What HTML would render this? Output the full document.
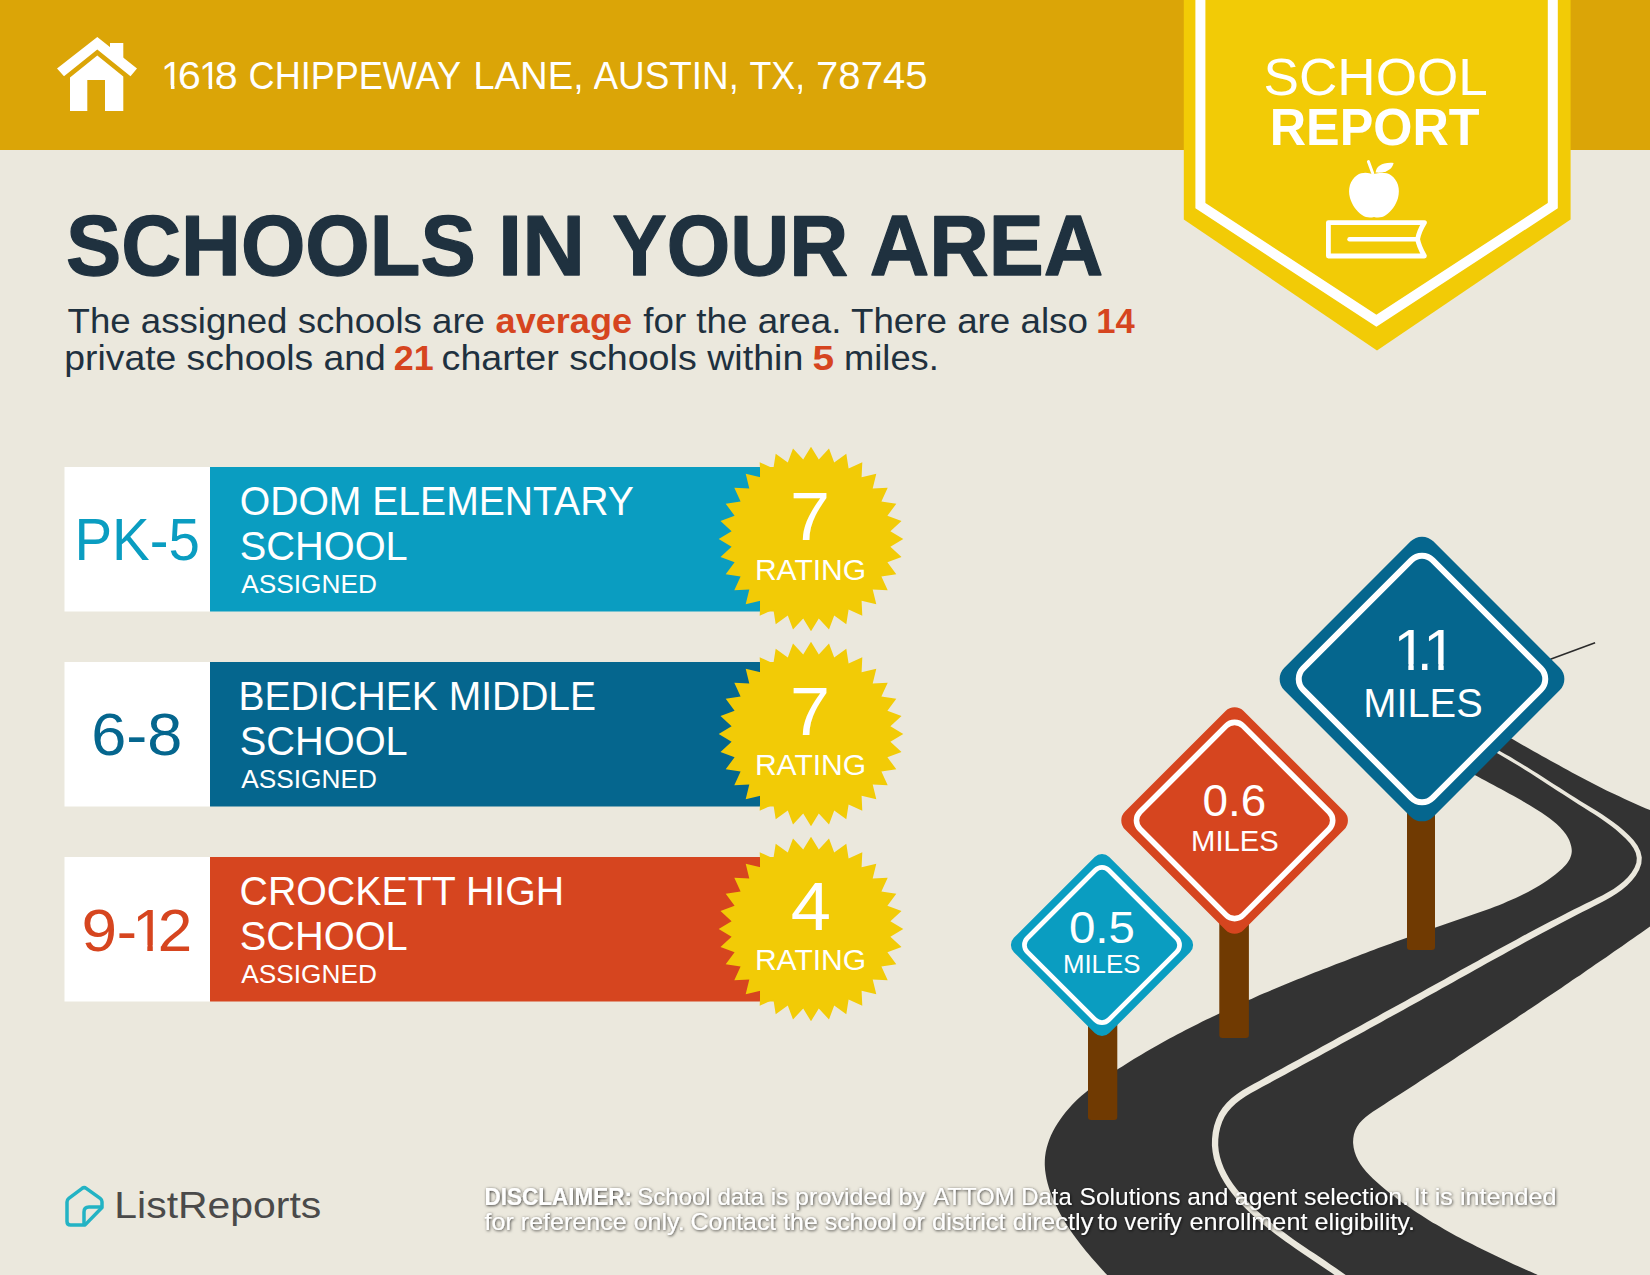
<!DOCTYPE html>
<html lang="en"><head><meta charset="utf-8"><title>School Report</title>
<style>
html,body{margin:0;padding:0;background:#ebe8dd;}
body{width:1650px;height:1275px;overflow:hidden;}
svg{display:block;font-family:"Liberation Sans",sans-serif;}
text{white-space:pre;}
</style></head><body>
<svg width="1650" height="1275" viewBox="0 0 1650 1275">
<defs><filter id="sh" x="-5%" y="-30%" width="110%" height="170%"><feDropShadow dx="0.7" dy="0.8" stdDeviation="1.8" flood-color="#000" flood-opacity="0.8"/></filter></defs>
<rect width="1650" height="1275" fill="#ebe8dd"/>
<rect x="0" y="0" width="1650" height="150" fill="#dba507"/>
<g fill="#fff"><path d="M97.3,37 L137,68.5 L130.5,76.2 L97.3,49.5 L64,76.2 L57,68.5 Z"/><path d="M110,43 H123.3 V62 L110,51 Z"/><path d="M97.3,55.5 L123.3,76.5 V111 H105 V80 H87.3 V111 H70 V77.5 Z"/></g>
<clipPath id="c1"><rect x="170.47" y="49.76" width="4.43" height="35.52"/><rect x="170.87" y="85.27" width="3.63" height="4.73"/><rect x="162.80" y="49.76" width="8.17" height="35.52"/><rect x="179.10" y="49.76" width="20.70" height="35.32"/><rect x="182.40" y="85.08" width="15.60" height="17.66"/><rect x="208.21" y="49.76" width="4.39" height="35.52"/><rect x="208.61" y="85.27" width="3.59" height="4.73"/><rect x="200.60" y="49.76" width="8.11" height="35.52"/><rect x="215.90" y="49.76" width="21.00" height="35.32"/><rect x="219.50" y="85.08" width="15.60" height="17.66"/><rect x="249.60" y="49.76" width="211.50" height="35.32"/><rect x="250.40" y="85.08" width="209.90" height="17.66"/><rect x="475.50" y="49.76" width="105.80" height="35.32"/><rect x="476.30" y="85.08" width="104.20" height="17.66"/><rect x="592.80" y="49.76" width="143.70" height="35.32"/><rect x="593.60" y="85.08" width="142.10" height="17.66"/><rect x="749.40" y="49.76" width="53.50" height="35.32"/><rect x="750.20" y="85.08" width="51.90" height="17.66"/><rect x="817.30" y="49.76" width="109.30" height="35.32"/><rect x="818.10" y="85.08" width="107.70" height="17.66"/></clipPath>
<text clip-path="url(#c1)"><tspan x="161.08" y="89.00" textLength="21.79" lengthAdjust="spacingAndGlyphs" font-size="39.24" fill="#fff">1</tspan><tspan x="177.82" y="89.00" textLength="23.09" lengthAdjust="spacingAndGlyphs" font-size="39.24" fill="#fff">6</tspan><tspan x="198.92" y="89.00" textLength="21.57" lengthAdjust="spacingAndGlyphs" font-size="39.24" fill="#fff">1</tspan><tspan x="214.84" y="89.00" textLength="22.96" lengthAdjust="spacingAndGlyphs" font-size="39.24" fill="#fff">8</tspan> <tspan x="248.60" y="89.00" textLength="212.42" lengthAdjust="spacingAndGlyphs" font-size="39.24" fill="#fff">CHIPPEWAY</tspan> <tspan x="473.24" y="89.00" textLength="110.72" lengthAdjust="spacingAndGlyphs" font-size="39.24" fill="#fff">LANE,</tspan> <tspan x="593.42" y="89.00" textLength="145.60" lengthAdjust="spacingAndGlyphs" font-size="39.24" fill="#fff">AUSTIN,</tspan> <tspan x="749.48" y="89.00" textLength="55.68" lengthAdjust="spacingAndGlyphs" font-size="39.24" fill="#fff">TX,</tspan> <tspan x="816.10" y="89.00" textLength="111.34" lengthAdjust="spacingAndGlyphs" font-size="39.24" fill="#fff">78745</tspan></text>
<path d="M1183.8,0 V219.4 L1377,350.5 L1570.6,219.4 V0 Z" fill="#f2cb06"/>
<path d="M1200.4,-10 V205.6 L1376.4,320.8 L1552.8,205.6 V-10" fill="none" stroke="#fff" stroke-width="10" stroke-linejoin="miter"/>
<text><tspan x="1263.61" y="95.40" textLength="224.25" lengthAdjust="spacingAndGlyphs" font-size="52.33" fill="#fff">SCHOOL</tspan> <tspan x="1269.73" y="144.80" textLength="209.88" lengthAdjust="spacingAndGlyphs" font-size="51.31" font-weight="bold" fill="#fff">REPORT</tspan></text>
<g fill="#fff"><path d="M1372.5,174.6 C1369,172.4 1362,171.8 1357,175.3 C1350,180.3 1347.6,189 1350,198 C1352,205 1356.5,211 1362,215 C1366,217.8 1370.5,217.8 1374,216.9 C1377.5,217.8 1382,217.8 1386,215 C1391.5,211 1396,205 1398,198 C1400.4,189 1398,180.3 1391,175.3 C1386,171.8 1379,172.4 1372.5,174.6 Z"/><path d="M1375.6,172.6 C1376,166 1383,162 1393.6,163 C1392.5,169.5 1385,173.6 1375.6,172.6 Z"/></g>
<path d="M1368.4,161.6 L1372.8,173.5" stroke="#fff" stroke-width="3" stroke-linecap="round" fill="none"/>
<path d="M1424.4,222.6 H1328.4 V256 H1424.4 C1421,250 1418.5,244 1417.6,239.2 C1418.5,234 1421,228 1424.4,222.6 Z" fill="none" stroke="#fff" stroke-width="4.8" stroke-linejoin="round" stroke-linecap="round"/>
<path d="M1349.5,239.2 H1417" stroke="#fff" stroke-width="4.4" stroke-linecap="round" fill="none"/>
<text><tspan x="66.01" y="275.00" textLength="409.68" lengthAdjust="spacingAndGlyphs" font-size="84.74" font-weight="bold" fill="#1f313f" stroke="#1f313f" stroke-width="1.3" stroke-linejoin="round">SCHOOLS</tspan> <tspan x="498.14" y="275.00" textLength="87.01" lengthAdjust="spacingAndGlyphs" font-size="84.74" font-weight="bold" fill="#1f313f" stroke="#1f313f" stroke-width="1.3" stroke-linejoin="round">IN</tspan> <tspan x="612.17" y="275.00" textLength="236.01" lengthAdjust="spacingAndGlyphs" font-size="84.74" font-weight="bold" fill="#1f313f" stroke="#1f313f" stroke-width="1.3" stroke-linejoin="round">YOUR</tspan> <tspan x="869.74" y="275.00" textLength="233.62" lengthAdjust="spacingAndGlyphs" font-size="84.74" font-weight="bold" fill="#1f313f" stroke="#1f313f" stroke-width="1.3" stroke-linejoin="round">AREA</tspan></text>
<text><tspan x="67.57" y="333.30" textLength="417.41" lengthAdjust="spacingAndGlyphs" font-size="34.88" fill="#1f313f">The assigned schools are</tspan> <tspan x="495.62" y="333.30" textLength="136.38" lengthAdjust="spacingAndGlyphs" font-size="34.88" font-weight="bold" fill="#d6451f">average</tspan> <tspan x="643.25" y="333.30" textLength="444.62" lengthAdjust="spacingAndGlyphs" font-size="34.88" fill="#1f313f">for the area. There are also</tspan> <tspan x="1096.15" y="333.30" textLength="38.50" lengthAdjust="spacingAndGlyphs" font-size="34.88" font-weight="bold" fill="#d6451f">14</tspan> <tspan x="64.27" y="370.00" textLength="321.50" lengthAdjust="spacingAndGlyphs" font-size="34.88" fill="#1f313f">private schools and</tspan> <tspan x="393.74" y="370.00" textLength="39.94" lengthAdjust="spacingAndGlyphs" font-size="34.88" font-weight="bold" fill="#d6451f">21</tspan> <tspan x="441.61" y="370.00" textLength="361.76" lengthAdjust="spacingAndGlyphs" font-size="34.88" fill="#1f313f">charter schools within</tspan> <tspan x="812.44" y="370.00" textLength="21.58" lengthAdjust="spacingAndGlyphs" font-size="34.88" font-weight="bold" fill="#d6451f">5</tspan> <tspan x="844.04" y="370.00" textLength="94.78" lengthAdjust="spacingAndGlyphs" font-size="34.88" fill="#1f313f">miles.</tspan></text>
<rect x="64.5" y="467" width="146" height="144.5" fill="#fff"/>
<rect x="210" y="467" width="550" height="144.5" fill="#0a9dc1"/>
<rect x="760" y="467" width="50" height="144.5" fill="#f2cb06"/>
<path d="M811.0,446.7 L818.8,459.6 L829.0,448.5 L834.2,462.6 L846.3,453.7 L848.6,468.6 L862.3,462.3 L861.6,477.3 L876.3,473.7 L872.7,488.4 L887.7,487.7 L881.4,501.4 L896.3,503.7 L887.4,515.8 L901.5,521.0 L890.4,531.2 L903.3,539.0 L890.4,546.8 L901.5,557.0 L887.4,562.2 L896.3,574.3 L881.4,576.6 L887.7,590.3 L872.7,589.6 L876.3,604.3 L861.6,600.7 L862.3,615.7 L848.6,609.4 L846.3,624.3 L834.2,615.4 L829.0,629.5 L818.8,618.4 L811.0,631.3 L803.2,618.4 L793.0,629.5 L787.8,615.4 L775.7,624.3 L773.4,609.4 L759.7,615.7 L760.4,600.7 L745.7,604.3 L749.3,589.6 L734.3,590.3 L740.6,576.6 L725.7,574.3 L734.6,562.2 L720.5,557.0 L731.6,546.8 L718.7,539.0 L731.6,531.2 L720.5,521.0 L734.6,515.8 L725.7,503.7 L740.6,501.4 L734.3,487.7 L749.3,488.4 L745.7,473.7 L760.4,477.3 L759.7,462.3 L773.4,468.6 L775.7,453.7 L787.8,462.6 L793.0,448.5 L803.2,459.6Z" fill="#f2cb06"/>
<text><tspan x="74.49" y="560.30" textLength="125.35" lengthAdjust="spacingAndGlyphs" font-size="58.58" fill="#0a9dc1">PK-5</tspan></text>
<text><tspan x="239.74" y="515.00" textLength="394.08" lengthAdjust="spacingAndGlyphs" font-size="39.83" fill="#fff">ODOM ELEMENTARY</tspan> <tspan x="239.71" y="559.60" textLength="168.01" lengthAdjust="spacingAndGlyphs" font-size="39.83" fill="#fff">SCHOOL</tspan></text>
<text><tspan x="241.37" y="592.50" textLength="135.49" lengthAdjust="spacingAndGlyphs" font-size="25.73" fill="#fff">ASSIGNED</tspan></text>
<text><tspan x="790.01" y="539.60" textLength="39.97" lengthAdjust="spacingAndGlyphs" font-size="68.31" fill="#fff">7</tspan> <tspan x="754.90" y="579.60" textLength="111.32" lengthAdjust="spacingAndGlyphs" font-size="29.07" fill="#fff">RATING</tspan></text>
<rect x="64.5" y="662" width="146" height="144.5" fill="#fff"/>
<rect x="210" y="662" width="550" height="144.5" fill="#05668e"/>
<rect x="760" y="662" width="50" height="144.5" fill="#f2cb06"/>
<path d="M811.0,641.7 L818.8,654.6 L829.0,643.5 L834.2,657.6 L846.3,648.7 L848.6,663.6 L862.3,657.3 L861.6,672.3 L876.3,668.7 L872.7,683.4 L887.7,682.7 L881.4,696.4 L896.3,698.7 L887.4,710.8 L901.5,716.0 L890.4,726.2 L903.3,734.0 L890.4,741.8 L901.5,752.0 L887.4,757.2 L896.3,769.3 L881.4,771.6 L887.7,785.3 L872.7,784.6 L876.3,799.3 L861.6,795.7 L862.3,810.7 L848.6,804.4 L846.3,819.3 L834.2,810.4 L829.0,824.5 L818.8,813.4 L811.0,826.3 L803.2,813.4 L793.0,824.5 L787.8,810.4 L775.7,819.3 L773.4,804.4 L759.7,810.7 L760.4,795.7 L745.7,799.3 L749.3,784.6 L734.3,785.3 L740.6,771.6 L725.7,769.3 L734.6,757.2 L720.5,752.0 L731.6,741.8 L718.7,734.0 L731.6,726.2 L720.5,716.0 L734.6,710.8 L725.7,698.7 L740.6,696.4 L734.3,682.7 L749.3,683.4 L745.7,668.7 L760.4,672.3 L759.7,657.3 L773.4,663.6 L775.7,648.7 L787.8,657.6 L793.0,643.5 L803.2,654.6Z" fill="#f2cb06"/>
<text><tspan x="91.25" y="755.30" textLength="91.10" lengthAdjust="spacingAndGlyphs" font-size="58.58" fill="#05668e">6-8</tspan></text>
<text><tspan x="238.38" y="710.00" textLength="357.73" lengthAdjust="spacingAndGlyphs" font-size="39.83" fill="#fff">BEDICHEK MIDDLE</tspan> <tspan x="239.71" y="754.60" textLength="168.01" lengthAdjust="spacingAndGlyphs" font-size="39.83" fill="#fff">SCHOOL</tspan></text>
<text><tspan x="241.37" y="787.50" textLength="135.49" lengthAdjust="spacingAndGlyphs" font-size="25.73" fill="#fff">ASSIGNED</tspan></text>
<text><tspan x="790.01" y="734.60" textLength="39.97" lengthAdjust="spacingAndGlyphs" font-size="68.31" fill="#fff">7</tspan> <tspan x="754.90" y="774.60" textLength="111.32" lengthAdjust="spacingAndGlyphs" font-size="29.07" fill="#fff">RATING</tspan></text>
<rect x="64.5" y="857" width="146" height="144.5" fill="#fff"/>
<rect x="210" y="857" width="550" height="144.5" fill="#d6451f"/>
<rect x="760" y="857" width="50" height="144.5" fill="#f2cb06"/>
<path d="M811.0,836.7 L818.8,849.6 L829.0,838.5 L834.2,852.6 L846.3,843.7 L848.6,858.6 L862.3,852.3 L861.6,867.3 L876.3,863.7 L872.7,878.4 L887.7,877.7 L881.4,891.4 L896.3,893.7 L887.4,905.8 L901.5,911.0 L890.4,921.2 L903.3,929.0 L890.4,936.8 L901.5,947.0 L887.4,952.2 L896.3,964.3 L881.4,966.6 L887.7,980.3 L872.7,979.6 L876.3,994.3 L861.6,990.7 L862.3,1005.7 L848.6,999.4 L846.3,1014.3 L834.2,1005.4 L829.0,1019.5 L818.8,1008.4 L811.0,1021.3 L803.2,1008.4 L793.0,1019.5 L787.8,1005.4 L775.7,1014.3 L773.4,999.4 L759.7,1005.7 L760.4,990.7 L745.7,994.3 L749.3,979.6 L734.3,980.3 L740.6,966.6 L725.7,964.3 L734.6,952.2 L720.5,947.0 L731.6,936.8 L718.7,929.0 L731.6,921.2 L720.5,911.0 L734.6,905.8 L725.7,893.7 L740.6,891.4 L734.3,877.7 L749.3,878.4 L745.7,863.7 L760.4,867.3 L759.7,852.3 L773.4,858.6 L775.7,843.7 L787.8,852.6 L793.0,838.5 L803.2,849.6Z" fill="#f2cb06"/>
<clipPath id="c2"><rect x="83.60" y="891.63" width="31.30" height="52.98"/><rect x="84.40" y="944.61" width="29.70" height="26.49"/><rect x="118.80" y="891.63" width="16.50" height="52.98"/><rect x="119.60" y="944.61" width="14.90" height="26.49"/><rect x="146.91" y="891.63" width="6.29" height="53.27"/><rect x="147.31" y="944.91" width="5.49" height="6.59"/><rect x="135.90" y="891.63" width="11.51" height="53.27"/><rect x="160.00" y="891.63" width="30.00" height="52.98"/><rect x="160.80" y="944.61" width="28.40" height="26.49"/></clipPath>
<text clip-path="url(#c2)"><tspan x="81.53" y="950.50" textLength="35.52" lengthAdjust="spacingAndGlyphs" font-size="58.87" fill="#d6451f">9</tspan><tspan x="116.86" y="950.50" textLength="20.25" lengthAdjust="spacingAndGlyphs" font-size="58.87" fill="#d6451f">-</tspan><tspan x="132.16" y="950.50" textLength="33.60" lengthAdjust="spacingAndGlyphs" font-size="58.87" fill="#d6451f">1</tspan><tspan x="157.68" y="950.50" textLength="34.71" lengthAdjust="spacingAndGlyphs" font-size="58.87" fill="#d6451f">2</tspan></text>
<text><tspan x="239.54" y="905.00" textLength="324.61" lengthAdjust="spacingAndGlyphs" font-size="39.83" fill="#fff">CROCKETT HIGH</tspan> <tspan x="239.71" y="949.60" textLength="168.01" lengthAdjust="spacingAndGlyphs" font-size="39.83" fill="#fff">SCHOOL</tspan></text>
<text><tspan x="241.37" y="982.50" textLength="135.49" lengthAdjust="spacingAndGlyphs" font-size="25.73" fill="#fff">ASSIGNED</tspan></text>
<text><tspan x="790.70" y="929.60" textLength="40.16" lengthAdjust="spacingAndGlyphs" font-size="68.31" fill="#fff">4</tspan> <tspan x="754.90" y="969.60" textLength="111.32" lengthAdjust="spacingAndGlyphs" font-size="29.07" fill="#fff">RATING</tspan></text>
<path d="M1107.2,1275.1C1106.1,1273.9 1102.8,1270.3 1100.7,1267.9C1098.6,1265.6 1096.6,1263.3 1094.5,1261.0C1092.5,1258.8 1090.6,1256.5 1088.7,1254.2C1086.8,1252.0 1084.9,1249.7 1083.1,1247.4C1081.2,1245.1 1079.4,1242.9 1077.7,1240.5C1075.9,1238.2 1074.2,1235.8 1072.5,1233.4C1070.8,1230.9 1069.1,1228.5 1067.5,1225.9C1065.8,1223.3 1064.2,1220.7 1062.6,1218.0C1061.1,1215.3 1059.5,1212.5 1058.1,1209.7C1056.6,1206.9 1055.2,1204.0 1054.0,1201.1C1052.7,1198.2 1051.5,1195.3 1050.4,1192.3C1049.3,1189.3 1048.4,1186.3 1047.6,1183.3C1046.8,1180.3 1046.1,1177.3 1045.7,1174.3C1045.2,1171.3 1044.9,1168.3 1044.8,1165.4C1044.7,1162.4 1044.8,1159.4 1045.1,1156.5C1045.4,1153.6 1046.0,1150.7 1046.7,1147.8C1047.4,1145.0 1048.3,1142.2 1049.3,1139.4C1050.4,1136.6 1051.6,1133.9 1053.0,1131.2C1054.4,1128.6 1055.9,1125.9 1057.5,1123.4C1059.1,1120.8 1060.9,1118.3 1062.7,1115.9C1064.6,1113.4 1066.5,1111.1 1068.6,1108.8C1070.6,1106.5 1072.7,1104.3 1074.8,1102.1C1077.0,1099.9 1079.2,1097.9 1081.5,1095.8C1083.7,1093.8 1086.1,1091.8 1088.4,1089.9C1090.8,1088.0 1093.2,1086.2 1095.7,1084.3C1098.1,1082.5 1100.6,1080.7 1103.1,1079.0C1105.6,1077.2 1108.2,1075.5 1110.7,1073.8C1113.2,1072.1 1115.8,1070.5 1118.4,1068.8C1121.0,1067.2 1123.5,1065.5 1126.1,1063.9C1128.7,1062.3 1131.3,1060.7 1133.9,1059.1C1136.5,1057.5 1139.1,1055.9 1141.7,1054.4C1144.4,1052.8 1147.0,1051.3 1149.6,1049.8C1152.3,1048.2 1154.9,1046.7 1157.6,1045.2C1160.2,1043.8 1162.9,1042.3 1165.5,1040.8C1168.2,1039.3 1170.9,1037.9 1173.5,1036.5C1176.2,1035.0 1178.9,1033.6 1181.6,1032.2C1184.3,1030.8 1187.0,1029.4 1189.7,1028.0C1192.4,1026.6 1195.1,1025.2 1197.8,1023.9C1200.5,1022.5 1203.3,1021.2 1206.0,1019.8C1208.7,1018.5 1211.5,1017.2 1214.2,1015.9C1216.9,1014.6 1219.7,1013.2 1222.4,1012.0C1225.2,1010.7 1227.9,1009.4 1230.7,1008.1C1233.4,1006.8 1236.2,1005.6 1239.0,1004.3C1241.7,1003.1 1244.5,1001.8 1247.3,1000.6C1250.1,999.4 1252.8,998.2 1255.6,996.9C1258.4,995.7 1261.2,994.5 1264.0,993.3C1266.8,992.1 1269.6,990.9 1272.4,989.8C1275.2,988.6 1278.0,987.4 1280.8,986.2C1283.6,985.1 1286.4,983.9 1289.2,982.8C1292.0,981.6 1294.8,980.5 1297.7,979.3C1300.5,978.2 1303.3,977.1 1306.1,975.9C1308.9,974.8 1311.8,973.7 1314.6,972.6C1317.4,971.4 1320.2,970.3 1323.1,969.2C1325.9,968.1 1328.7,967.0 1331.6,965.9C1334.4,964.8 1337.2,963.7 1340.0,962.7C1342.9,961.6 1345.7,960.5 1348.6,959.4C1351.4,958.3 1354.2,957.2 1357.1,956.2C1359.9,955.1 1362.7,954.0 1365.6,953.0C1368.4,951.9 1371.3,950.8 1374.1,949.8C1377.0,948.7 1379.8,947.6 1382.7,946.6C1385.5,945.5 1388.3,944.5 1391.2,943.4C1394.1,942.4 1396.9,941.4 1399.8,940.3C1402.6,939.3 1405.5,938.2 1408.3,937.2C1411.2,936.2 1414.1,935.2 1416.9,934.1C1419.8,933.1 1422.6,932.1 1425.5,931.1C1428.4,930.0 1431.3,929.0 1434.1,928.0C1437.0,927.0 1439.9,926.0 1442.8,925.0C1445.6,924.0 1448.5,923.0 1451.4,922.0C1454.3,921.0 1457.2,920.0 1460.1,919.0C1463.0,918.0 1465.9,917.0 1468.8,916.0C1471.6,915.0 1474.5,914.0 1477.4,913.0C1480.3,912.0 1483.2,911.0 1486.1,909.9C1488.9,908.9 1491.8,907.8 1494.7,906.7C1497.5,905.6 1500.4,904.5 1503.2,903.4C1506.0,902.2 1508.8,901.0 1511.6,899.8C1514.4,898.6 1517.1,897.3 1519.9,896.0C1522.6,894.7 1525.3,893.4 1528.0,891.9C1530.7,890.5 1533.4,889.1 1536.0,887.5C1538.6,886.0 1541.2,884.4 1543.8,882.7C1546.3,881.1 1548.8,879.3 1551.3,877.5C1553.8,875.7 1556.3,873.8 1558.6,871.8C1560.9,869.9 1563.3,867.8 1565.2,865.6C1567.0,863.4 1568.8,861.1 1569.9,858.7C1571.0,856.3 1571.7,853.7 1571.8,851.0C1571.8,848.3 1571.1,845.3 1570.1,842.5C1569.2,839.7 1567.6,836.9 1565.9,834.3C1564.2,831.8 1562.2,829.4 1560.0,827.2C1557.9,824.9 1555.5,822.8 1553.0,820.9C1550.5,818.9 1547.9,817.0 1545.3,815.2C1542.7,813.4 1540.0,811.7 1537.3,810.0C1534.6,808.3 1532.0,806.6 1529.3,805.0C1526.6,803.4 1524.0,801.9 1521.3,800.3C1518.6,798.8 1516.0,797.3 1513.3,795.8C1510.7,794.3 1508.0,792.9 1505.4,791.4C1502.7,790.0 1500.1,788.6 1497.4,787.2C1494.8,785.7 1492.1,784.3 1489.5,782.9C1486.9,781.5 1484.2,780.1 1481.6,778.7C1479.0,777.3 1476.4,775.9 1473.7,774.5C1471.1,773.0 1468.5,771.6 1465.9,770.1C1463.3,768.7 1460.7,767.2 1458.1,765.7C1455.5,764.2 1452.9,762.6 1450.3,761.1C1447.8,759.5 1445.2,757.9 1442.6,756.2C1440.0,754.6 1437.5,752.9 1434.9,751.1C1432.4,749.4 1429.8,747.6 1427.3,745.7C1424.7,743.9 1421.0,741.0 1419.7,740.0L1469.9,715.1C1471.4,715.9 1475.6,718.3 1478.4,719.8C1481.3,721.4 1484.1,723.0 1486.9,724.6C1489.8,726.2 1492.6,727.8 1495.4,729.4C1498.2,731.0 1501.1,732.6 1503.9,734.2C1506.7,735.8 1509.5,737.5 1512.4,739.1C1515.2,740.7 1518.0,742.3 1520.8,743.9C1523.6,745.5 1526.5,747.1 1529.3,748.7C1532.1,750.3 1535.0,751.9 1537.8,753.5C1540.6,755.1 1543.4,756.7 1546.3,758.3C1549.1,759.9 1552.0,761.5 1554.8,763.1C1557.6,764.7 1560.5,766.2 1563.3,767.8C1566.2,769.4 1569.0,770.9 1571.9,772.5C1574.8,774.0 1577.6,775.5 1580.5,777.0C1583.4,778.6 1586.2,780.1 1589.1,781.6C1592.0,783.1 1594.9,784.5 1597.8,786.0C1600.7,787.5 1603.6,788.9 1606.5,790.4C1609.4,791.8 1612.3,793.2 1615.3,794.6C1618.2,796.0 1621.1,797.4 1624.1,798.8C1627.0,800.1 1630.0,801.5 1633.0,802.8C1635.9,804.1 1638.9,805.4 1641.9,806.7C1644.9,808.0 1647.9,809.2 1650.9,810.5C1653.9,811.7 1658.5,813.5 1660.0,814.1L1659.5,919.8C1658.2,920.7 1654.4,923.4 1651.9,925.2C1649.4,927.0 1646.9,928.7 1644.4,930.5C1641.8,932.3 1639.3,934.1 1636.8,935.8C1634.3,937.6 1631.7,939.4 1629.2,941.1C1626.7,942.9 1624.2,944.6 1621.7,946.4C1619.2,948.1 1616.6,949.9 1614.1,951.6C1611.6,953.4 1609.1,955.1 1606.6,956.9C1604.1,958.6 1601.5,960.3 1599.0,962.1C1596.5,963.8 1594.0,965.5 1591.5,967.3C1589.0,969.0 1586.4,970.7 1583.9,972.4C1581.4,974.2 1578.9,975.9 1576.4,977.6C1573.8,979.3 1571.3,981.0 1568.8,982.7C1566.3,984.4 1563.8,986.1 1561.3,987.9C1558.7,989.6 1556.2,991.3 1553.7,993.0C1551.2,994.7 1548.6,996.4 1546.1,998.1C1543.6,999.8 1541.1,1001.5 1538.5,1003.2C1536.0,1004.8 1533.5,1006.5 1531.0,1008.2C1528.4,1009.9 1525.9,1011.6 1523.4,1013.3C1520.8,1015.0 1518.3,1016.7 1515.8,1018.4C1513.2,1020.0 1510.7,1021.7 1508.2,1023.4C1505.6,1025.1 1503.1,1026.8 1500.6,1028.5C1498.0,1030.1 1495.5,1031.8 1492.9,1033.5C1490.4,1035.2 1487.8,1036.9 1485.3,1038.5C1482.7,1040.2 1480.2,1041.9 1477.6,1043.6C1475.1,1045.3 1472.5,1046.9 1470.0,1048.6C1467.4,1050.3 1464.9,1052.0 1462.3,1053.6C1459.7,1055.3 1457.2,1057.0 1454.6,1058.7C1452.0,1060.4 1449.5,1062.0 1446.9,1063.7C1444.3,1065.4 1441.7,1067.1 1439.2,1068.8C1436.6,1070.4 1434.0,1072.1 1431.4,1073.8C1428.8,1075.5 1426.3,1077.2 1423.7,1078.8C1421.1,1080.5 1418.5,1082.2 1415.9,1083.9C1413.3,1085.6 1410.7,1087.3 1408.1,1089.0C1405.5,1090.6 1402.9,1092.3 1400.3,1094.0C1397.6,1095.7 1395.0,1097.4 1392.4,1099.1C1389.8,1100.8 1387.2,1102.5 1384.5,1104.2C1381.9,1105.9 1379.3,1107.6 1376.7,1109.3C1374.1,1111.0 1371.4,1112.7 1369.0,1114.5C1366.6,1116.4 1364.2,1118.2 1362.2,1120.3C1360.2,1122.3 1358.4,1124.4 1357.0,1126.8C1355.6,1129.2 1354.5,1131.8 1353.9,1134.5C1353.3,1137.2 1353.0,1140.2 1353.1,1143.1C1353.3,1146.0 1353.8,1149.0 1354.6,1151.8C1355.4,1154.7 1356.6,1157.5 1358.1,1160.2C1359.5,1162.9 1361.3,1165.5 1363.2,1168.0C1365.1,1170.5 1367.3,1173.0 1369.6,1175.3C1371.8,1177.7 1374.2,1179.9 1376.7,1182.1C1379.1,1184.3 1381.6,1186.4 1384.1,1188.4C1386.5,1190.5 1389.0,1192.4 1391.4,1194.3C1393.9,1196.2 1396.3,1198.1 1398.7,1199.9C1401.1,1201.7 1403.5,1203.4 1406.0,1205.1C1408.4,1206.9 1410.9,1208.5 1413.4,1210.2C1415.9,1211.9 1418.4,1213.5 1420.9,1215.1C1423.4,1216.8 1426.0,1218.4 1428.5,1219.9C1431.1,1221.5 1433.7,1223.1 1436.3,1224.6C1438.9,1226.2 1441.5,1227.7 1444.2,1229.2C1446.8,1230.7 1449.5,1232.2 1452.2,1233.7C1454.8,1235.1 1457.5,1236.6 1460.2,1238.0C1462.9,1239.5 1465.6,1240.9 1468.4,1242.3C1471.1,1243.7 1473.8,1245.1 1476.6,1246.5C1479.3,1247.8 1482.1,1249.2 1484.8,1250.6C1487.6,1251.9 1490.4,1253.2 1493.1,1254.6C1495.9,1255.9 1498.7,1257.2 1501.5,1258.5C1504.3,1259.8 1507.1,1261.1 1509.9,1262.4C1512.6,1263.7 1515.4,1265.0 1518.2,1266.3C1521.0,1267.5 1523.8,1268.8 1526.6,1270.1C1529.4,1271.3 1532.2,1272.6 1535.0,1273.8C1537.8,1275.1 1540.6,1276.3 1543.3,1277.5C1546.1,1278.8 1548.9,1280.0 1551.7,1281.2C1554.4,1282.4 1558.6,1284.3 1560.0,1284.9L1107,1285Z" fill="#333333"/>
<path d="M1469.4,739.4 L1475.2,742.0 L1480.9,744.8 L1486.6,747.6 L1492.2,750.6 L1497.8,753.6 L1503.3,756.8 L1508.8,759.9 L1514.3,763.2 L1519.8,766.5 L1525.2,769.9 L1530.6,773.3 L1535.9,776.7 L1541.3,780.2 L1546.6,783.7 L1552.0,787.2 L1557.3,790.7 L1562.6,794.1 L1568.0,797.6 L1573.3,801.1 L1578.7,804.5 L1584.0,807.8 L1589.4,811.2 L1594.7,814.6 L1600.0,818.1 L1605.3,821.7 L1610.5,825.6 L1615.7,829.6 L1620.7,833.9 L1625.6,838.5 L1630.0,843.3 L1633.5,848.2 L1635.8,853.1 L1636.8,857.9 L1636.4,862.7 L1634.6,867.6 L1631.6,872.5 L1627.8,877.2 L1623.4,881.5 L1618.7,885.3 L1613.6,888.9 L1608.3,892.1 L1602.7,895.2 L1597.0,898.1 L1591.2,900.9 L1585.3,903.8 L1579.5,906.7 L1573.7,909.6 L1567.9,912.5 L1562.2,915.4 L1556.4,918.4 L1550.7,921.3 L1545.0,924.3 L1539.3,927.3 L1533.6,930.3 L1528.0,933.3 L1522.3,936.3 L1516.7,939.4 L1511.1,942.4 L1505.5,945.5 L1499.9,948.5 L1494.3,951.6 L1488.7,954.7 L1483.1,957.8 L1477.6,960.9 L1472.0,963.9 L1466.5,967.0 L1460.9,970.1 L1455.4,973.2 L1449.8,976.3 L1444.3,979.4 L1438.7,982.4 L1433.2,985.5 L1427.7,988.6 L1422.1,991.7 L1416.6,994.7 L1411.0,997.8 L1405.5,1000.9 L1399.9,1003.9 L1394.4,1007.0 L1388.8,1010.1 L1383.2,1013.1 L1377.7,1016.2 L1372.1,1019.2 L1366.5,1022.3 L1360.9,1025.4 L1355.3,1028.4 L1349.7,1031.5 L1344.1,1034.6 L1338.5,1037.6 L1332.9,1040.7 L1327.3,1043.8 L1321.7,1046.8 L1316.1,1049.9 L1310.4,1053.0 L1304.8,1056.1 L1299.1,1059.2 L1293.4,1062.3 L1287.8,1065.3 L1282.1,1068.4 L1276.4,1071.5 L1270.7,1074.6 L1264.9,1077.8 L1259.2,1080.9 L1253.5,1084.0 L1247.7,1087.2 L1242.1,1090.6 L1236.7,1094.3 L1231.5,1098.3 L1226.8,1102.8 L1222.6,1107.8 L1219.0,1113.3 L1216.2,1119.4 L1214.1,1125.7 L1212.7,1132.3 L1212.0,1139.0 L1211.9,1145.6 L1212.6,1152.1 L1213.8,1158.5 L1215.7,1164.7 L1218.1,1170.7 L1220.9,1176.6 L1224.2,1182.3 L1227.9,1187.9 L1231.9,1193.2 L1236.1,1198.4 L1240.7,1203.4 L1245.4,1208.3 L1250.2,1213.0 L1255.1,1217.5 L1260.1,1221.9 L1265.2,1226.1 L1270.2,1230.1 L1275.3,1234.0 L1280.4,1237.8 L1285.5,1241.5 L1290.6,1245.1 L1295.8,1248.7 L1300.9,1252.2 L1306.1,1255.7 L1311.3,1259.2 L1316.5,1262.7 L1321.7,1266.2 L1326.9,1269.7 L1332.1,1273.3 L1337.3,1277.0 L1342.5,1280.7 L1347.8,1284.6 L1353.0,1288.6 L1358.2,1292.7 L1362.3,1287.6 L1356.9,1283.4 L1351.6,1279.4 L1346.4,1275.5 L1341.1,1271.7 L1335.8,1268.0 L1330.5,1264.4 L1325.3,1260.8 L1320.1,1257.3 L1314.9,1253.8 L1309.7,1250.4 L1304.6,1246.9 L1299.4,1243.4 L1294.3,1239.9 L1289.2,1236.3 L1284.2,1232.6 L1279.2,1228.9 L1274.2,1225.1 L1269.2,1221.1 L1264.3,1217.0 L1259.4,1212.8 L1254.6,1208.4 L1249.9,1203.8 L1245.3,1199.1 L1241.0,1194.3 L1236.9,1189.3 L1233.1,1184.2 L1229.6,1179.0 L1226.5,1173.6 L1223.9,1168.2 L1221.7,1162.6 L1220.0,1157.0 L1218.8,1151.2 L1218.2,1145.3 L1218.3,1139.3 L1219.0,1133.3 L1220.3,1127.4 L1222.2,1121.8 L1224.7,1116.5 L1227.9,1111.7 L1231.6,1107.4 L1235.8,1103.4 L1240.6,1099.7 L1245.7,1096.3 L1251.1,1093.0 L1256.7,1089.9 L1262.4,1086.8 L1268.2,1083.7 L1273.9,1080.6 L1279.6,1077.5 L1285.3,1074.4 L1291.0,1071.3 L1296.7,1068.2 L1302.4,1065.1 L1308.0,1062.1 L1313.7,1059.0 L1319.3,1055.9 L1325.0,1052.8 L1330.6,1049.8 L1336.2,1046.7 L1341.8,1043.6 L1347.4,1040.6 L1353.0,1037.5 L1358.6,1034.5 L1364.2,1031.4 L1369.8,1028.3 L1375.4,1025.3 L1381.0,1022.2 L1386.5,1019.1 L1392.1,1016.1 L1397.7,1013.0 L1403.2,1009.9 L1408.8,1006.8 L1414.3,1003.8 L1419.9,1000.7 L1425.4,997.6 L1430.9,994.5 L1436.5,991.4 L1442.0,988.3 L1447.6,985.3 L1453.1,982.2 L1458.6,979.1 L1464.2,976.0 L1469.7,972.9 L1475.3,969.8 L1480.8,966.7 L1486.4,963.6 L1491.9,960.5 L1497.5,957.4 L1503.1,954.4 L1508.7,951.3 L1514.2,948.2 L1519.8,945.2 L1525.5,942.1 L1531.1,939.1 L1536.7,936.0 L1542.3,933.0 L1548.0,929.9 L1553.7,926.9 L1559.3,923.9 L1565.0,921.0 L1570.8,918.0 L1576.5,915.0 L1582.3,912.1 L1588.0,909.2 L1593.8,906.3 L1599.7,903.3 L1605.4,900.3 L1611.1,897.0 L1616.7,893.6 L1622.0,889.7 L1627.1,885.5 L1631.7,880.8 L1635.9,875.5 L1639.2,869.8 L1641.3,863.8 L1641.8,857.6 L1640.4,851.5 L1637.6,845.7 L1633.6,840.3 L1628.9,835.2 L1623.8,830.5 L1618.5,826.1 L1613.1,822.0 L1607.8,818.2 L1602.4,814.6 L1596.9,811.1 L1591.5,807.7 L1586.1,804.4 L1580.7,801.2 L1575.3,797.8 L1570.0,794.5 L1564.6,791.1 L1559.3,787.6 L1553.9,784.2 L1548.5,780.7 L1543.2,777.3 L1537.8,773.8 L1532.4,770.4 L1527.0,767.0 L1521.5,763.7 L1516.0,760.4 L1510.5,757.1 L1504.9,754.0 L1499.3,750.8 L1493.7,747.8 L1488.0,744.9 L1482.2,742.0 L1476.4,739.3 L1470.6,736.7Z" fill="#ebe8dd"/>
<path d="M1550.4,659.2 L1595.1,642.7" stroke="#2b2b2b" stroke-width="1.6" fill="none"/>
<path d="M1407,679 H1435 V947 Q1435,950 1432,950 H1410 Q1407,950 1407,947 Z" fill="#703a02"/>
<rect x="-105.35" y="-105.35" width="210.70" height="210.70" rx="16.00" transform="translate(1422,679) rotate(45)" fill="#05668e"/>
<rect x="-91.55" y="-91.55" width="183.10" height="183.10" rx="15.00" transform="translate(1422,679) rotate(45)" fill="none" stroke="#fff" stroke-width="6"/>
<clipPath id="c3"><rect x="1407.92" y="612.09" width="6.18" height="51.96"/><rect x="1408.32" y="664.05" width="5.38" height="6.45"/><rect x="1397.10" y="612.09" width="11.32" height="51.96"/><rect x="1421.20" y="612.09" width="8.00" height="51.67"/><rect x="1422.00" y="663.76" width="5.40" height="25.84"/><rect x="1437.89" y="612.09" width="6.21" height="51.96"/><rect x="1438.29" y="664.05" width="5.41" height="6.45"/><rect x="1427.00" y="612.09" width="11.39" height="51.96"/><rect x="1365.60" y="676.54" width="116.10" height="36.24"/><rect x="1366.40" y="712.77" width="114.50" height="18.12"/></clipPath>
<text clip-path="url(#c3)"><tspan x="1393.48" y="669.50" textLength="32.92" lengthAdjust="spacingAndGlyphs" font-size="57.41" fill="#fff">1</tspan><tspan x="1415.94" y="669.50" textLength="18.72" lengthAdjust="spacingAndGlyphs" font-size="57.41" fill="#fff">.</tspan><tspan x="1423.34" y="669.50" textLength="33.14" lengthAdjust="spacingAndGlyphs" font-size="57.41" fill="#fff">1</tspan> <tspan x="1363.21" y="716.80" textLength="119.52" lengthAdjust="spacingAndGlyphs" font-size="40.26" fill="#fff">MILES</tspan></text>
<path d="M1219.3,820.5 H1248.9 V1035 Q1248.9,1038 1245.9,1038 H1222.3 Q1219.3,1038 1219.3,1035 Z" fill="#703a02"/>
<rect x="-83.86" y="-83.86" width="167.72" height="167.72" rx="12.74" transform="translate(1234.6,820.5) rotate(45)" fill="#d6451f"/>
<rect x="-72.87" y="-72.87" width="145.75" height="145.75" rx="11.94" transform="translate(1234.6,820.5) rotate(45)" fill="none" stroke="#fff" stroke-width="5.6"/>
<text><tspan x="1202.57" y="816.00" textLength="63.70" lengthAdjust="spacingAndGlyphs" font-size="43.90" fill="#fff">0.6</tspan> <tspan x="1191.06" y="850.70" textLength="87.68" lengthAdjust="spacingAndGlyphs" font-size="29.07" fill="#fff">MILES</tspan></text>
<path d="M1088,945 H1117.3 V1117 Q1117.3,1120 1114.3,1120 H1091 Q1088,1120 1088,1117 Z" fill="#703a02"/>
<rect x="-67.42" y="-67.42" width="134.85" height="134.85" rx="10.24" transform="translate(1102,945) rotate(45)" fill="#0a9dc1"/>
<rect x="-57.65" y="-57.65" width="115.31" height="115.31" rx="9.60" transform="translate(1102,945) rotate(45)" fill="none" stroke="#fff" stroke-width="4.7"/>
<text><tspan x="1068.90" y="943.00" textLength="66.01" lengthAdjust="spacingAndGlyphs" font-size="45.06" fill="#fff">0.5</tspan> <tspan x="1062.94" y="973.00" textLength="77.45" lengthAdjust="spacingAndGlyphs" font-size="25.87" fill="#fff">MILES</tspan></text>
<g fill="none" stroke="#23b3c4" stroke-width="3.5" stroke-linejoin="round" stroke-linecap="round"><path d="M67,1202 V1221.4 Q67,1224.9 70.5,1224.9 H85.1 L102,1207.5 V1201.8 Q102,1199.6 100.2,1198.3 L86.2,1188.3 Q84.2,1186.9 82.2,1188.3 L68.8,1198.3 Q67,1199.6 67,1202 Z"/><path d="M84,1223.5 V1212 Q84,1207 89,1207 H100.5"/></g>
<text><tspan x="114.33" y="1218.20" textLength="207.01" lengthAdjust="spacingAndGlyphs" font-size="37.06" fill="#4a4a4a">ListReports</tspan></text>
<g filter="url(#sh)">
<text><tspan x="484.54" y="1204.80" textLength="147.52" lengthAdjust="spacingAndGlyphs" font-size="23.84" font-weight="bold" fill="#fff">DISCLAIMER:</tspan> <tspan x="637.22" y="1204.80" textLength="150.97" lengthAdjust="spacingAndGlyphs" font-size="23.84" fill="#fff">School data is</tspan> <tspan x="795.06" y="1204.80" textLength="130.06" lengthAdjust="spacingAndGlyphs" font-size="23.84" fill="#fff">provided by</tspan> <tspan x="933.18" y="1204.80" textLength="138.58" lengthAdjust="spacingAndGlyphs" font-size="23.84" fill="#fff">ATTOM Data</tspan> <tspan x="1079.60" y="1204.80" textLength="148.70" lengthAdjust="spacingAndGlyphs" font-size="23.84" fill="#fff">Solutions and</tspan> <tspan x="1234.88" y="1204.80" textLength="174.18" lengthAdjust="spacingAndGlyphs" font-size="23.84" fill="#fff">agent selection.</tspan> <tspan x="1413.73" y="1204.80" textLength="142.92" lengthAdjust="spacingAndGlyphs" font-size="23.84" fill="#fff">It is intended</tspan> <tspan x="484.62" y="1229.80" textLength="200.15" lengthAdjust="spacingAndGlyphs" font-size="23.84" fill="#fff">for reference only.</tspan> <tspan x="690.46" y="1229.80" textLength="206.23" lengthAdjust="spacingAndGlyphs" font-size="23.84" fill="#fff">Contact the school</tspan> <tspan x="902.28" y="1229.80" textLength="191.19" lengthAdjust="spacingAndGlyphs" font-size="23.84" fill="#fff">or district directly</tspan> <tspan x="1097.64" y="1229.80" textLength="84.21" lengthAdjust="spacingAndGlyphs" font-size="23.84" fill="#fff">to verify</tspan> <tspan x="1189.56" y="1229.80" textLength="225.54" lengthAdjust="spacingAndGlyphs" font-size="23.84" fill="#fff">enrollment eligibility.</tspan></text>
</g>
</svg>
</body></html>
